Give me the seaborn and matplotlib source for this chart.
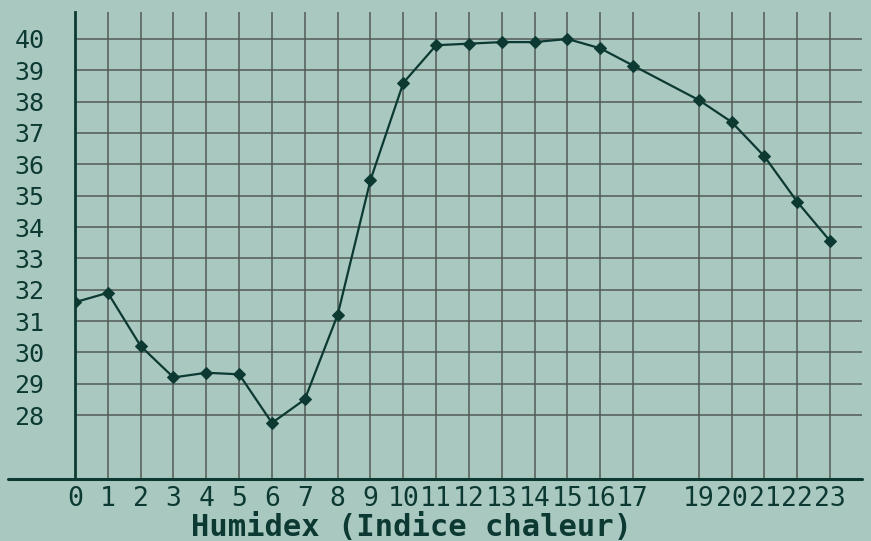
import pandas as pd
import matplotlib.pyplot as plt
import seaborn as sns

# Données (heure 18 absente)
heures = [0, 1, 2, 3, 4, 5, 6, 7, 8, 9, 10, 11, 12, 13, 14, 15, 16, 17,
          19, 20, 21, 22, 23]
humidex = [31.6, 31.9, 30.2, 29.2, 29.35, 29.3, 27.75, 28.5, 31.2, 35.5,
           38.6, 39.8, 39.85, 39.9, 39.9, 40.0, 39.7, 39.15,
           38.05, 37.35, 36.25, 34.8, 33.55]
y_ticks = [28, 29, 30, 31, 32, 33, 34, 35, 36, 37, 38, 39, 40]

bg = '#a9c8c0'
ink = '#0c3a32'
grid = '#535a55'

sns.set_style('white', {'axes.facecolor': bg, 'figure.facecolor': bg})
plt.rcParams['font.family'] = ['DejaVu Sans Mono', 'DejaVu Sans']

df = pd.DataFrame({'Heure': heures, 'Humidex': humidex})

fig = plt.figure(figsize=(8.71, 5.41), dpi=100)
ax = fig.add_axes([75 / 871, 62 / 541, 787 / 871, 467 / 541])

ymin, ymax = 25.96, 40.86
ax.set_xlim(0, 23.97)
ax.set_ylim(ymin, ymax)

# grille
ax.hlines(y_ticks, 0, 23.97, color=grid, lw=1.1, zorder=1)
ax.vlines([h for h in heures if h != 0], ymin, ymax, color=grid, lw=1.1, zorder=1)

sns.lineplot(data=df, x='Heure', y='Humidex', ax=ax, color=ink, lw=1.6,
             marker='D', markersize=6, markeredgecolor=ink, zorder=3)

for s in ['top', 'right', 'bottom']:
    ax.spines[s].set_visible(False)
ax.spines['left'].set_color(ink)
ax.spines['left'].set_linewidth(2)
ax.axhline(ymin, xmin=-67 / 787, xmax=1, color=ink, lw=2.2, clip_on=False)

ax.set_xticks(heures)
ax.set_xticklabels([str(h) for h in heures])
ax.set_yticks(y_ticks)
ax.set_yticklabels([str(v) for v in y_ticks])
ax.tick_params(axis='both', length=0, colors=ink)
ax.tick_params(axis='y', pad=22, labelsize=18)
ax.tick_params(axis='x', pad=5, labelsize=19)
ax.set_xlabel('')
ax.set_ylabel('')

fig.text(411 / 871, 14 / 541, 'Humidex (Indice chaleur)', ha='center', va='center',
         fontsize=22, fontweight='bold', color=ink)

fig.savefig('out.png', dpi=100, facecolor=bg)
